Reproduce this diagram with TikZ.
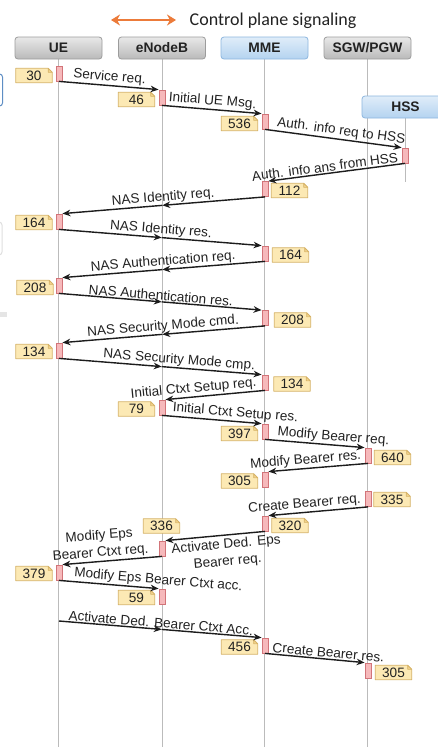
\documentclass[tikz,border=0pt]{standalone}
\usepackage{fontspec}
\setmainfont{Liberation Sans}
\newfontfamily\titlefont{Carlito}
\usetikzlibrary{arrows.meta,calc}
\pgfdeclarelayer{bg}
\pgfdeclarelayer{paper}
\pgfsetlayers{paper,bg,main}
\definecolor{grayTop}{HTML}{E8E8E8}
\definecolor{grayBot}{HTML}{BABABA}
\definecolor{grayBorder}{HTML}{9C9C9C}
\definecolor{blueTop}{HTML}{E0EDF9}
\definecolor{blueBot}{HTML}{B4D3F0}
\definecolor{blueBorder}{HTML}{8DB6DF}
\definecolor{lifegray}{HTML}{BBBBBB}
\definecolor{barfill}{HTML}{F6B9BB}
\definecolor{barborder}{HTML}{D27479}
\definecolor{notefill}{HTML}{FCE9B4}
\definecolor{notebord}{HTML}{D6B265}
\definecolor{notefoldfill}{HTML}{F1D38E}
\definecolor{msgcol}{HTML}{1C1C1C}
\definecolor{txtdark}{HTML}{222222}
\definecolor{orangearr}{HTML}{EC7B3A}
\definecolor{edgeblue}{HTML}{5E8EC4}
\newcommand\lblfont{\fontsize{13.6}{16}\selectfont}
\newcommand\twolinefont{\fontsize{13.6}{17}\selectfont}
\newcommand\hdrfont{\fontsize{13.8}{16}\selectfont\bfseries}
\tikzset{
  lifeline/.style={draw=lifegray, line width=1pt},
  hdr/.style={rounded corners=3pt, minimum width=87pt, minimum height=22pt, inner sep=0pt,
    font=\hdrfont, text=txtdark, draw=#1Border, line width=0.8pt, top color=#1Top, bottom color=#1Bot},
  actbar/.style={draw=barborder, fill=barfill, line width=0.8pt, minimum width=6pt, minimum height=15pt, inner sep=0pt},
  notetxt/.style={font=\lblfont, text=txtdark, minimum width=36pt, minimum height=14pt, inner sep=0pt},
  notepath/.style={draw=notebord, fill=notefill, line width=0.8pt, line join=round},
  notefold/.style={draw=notebord, fill=notefoldfill, line width=0.6pt, line join=round},
  msg/.style={draw=msgcol, line width=1.4pt, -{Stealth[length=8pt,width=6.5pt]}},
  lbl/.style={font=\lblfont, text=txtdark, sloped, inner sep=1.2pt},
  orangearrow/.style={draw=orangearr, line width=2.4pt, {Stealth[length=9pt,width=11pt]}-{Stealth[length=9pt,width=11pt]}}
}
\newcommand\actbarnode[3]{\node[actbar] (#1) at (#2,#3) {};}
\newcommand\notebox[4]{%
  \node[notetxt] (#1) at (#2,#3) {#4};
  \begin{pgfonlayer}{bg}
    \filldraw[notepath] (#1.south west) -- (#1.south east) -- ([yshift=-4pt]#1.north east)
      -- ([xshift=-4pt]#1.north east) -- (#1.north west) -- cycle;
    \filldraw[notefold] ([yshift=-4pt]#1.north east) -- ([xshift=-4pt]#1.north east)
      -- ([xshift=-4pt,yshift=-4pt]#1.north east) -- cycle;
  \end{pgfonlayer}}
\begin{document}
\begin{tikzpicture}[x=1pt,y=-1pt]
\useasboundingbox (0,0) rectangle (438,747);
\clip (0,0) rectangle (438,747);
\begin{pgfonlayer}{paper}
\fill[white] (0,0) rectangle (438,747);
\end{pgfonlayer}

% left edge fragments
\draw[edgeblue, line width=1pt, rounded corners=3pt] (-20,74) rectangle (2.5,106);
\draw[gray!25, line width=1pt, rounded corners=3pt] (-20,222) rectangle (2,255);
\fill[gray!20] (0,312) rectangle (7,317);

% title
\coordinate (oa) at (111,20);
\coordinate (ob) at (176,20);
\draw[orangearrow] (oa) -- (ob);
\node[anchor=base west, inner sep=0pt, font=\titlefont\fontsize{18}{20}\selectfont, text=txtdark] (title) at (189.5,25) {Control plane signaling};

% headers
\node[hdr=gray] (hUE) at (58.5,48) {UE};
\node[hdr=gray] (hENB) at (162,48) {eNodeB};
\node[hdr=blue] (hMME) at (264.5,48) {MME};
\node[hdr=gray] (hSGW) at (367.5,48) {SGW/PGW};

\coordinate (bottom) at (0,747);
\coordinate (hssend) at (405,182);
\begin{pgfonlayer}{bg}
\draw[lifeline] (hUE.south) -- (hUE.south |- bottom);
\draw[lifeline] (hENB.south) -- (hENB.south |- bottom);
\draw[lifeline] (hMME.south) -- (hMME.south |- bottom);
\draw[lifeline] (hSGW.south) -- (hSGW.south |- bottom);
\end{pgfonlayer}
\node[hdr=blue] (hHSS) at (405.5,107) {HSS};
\begin{pgfonlayer}{bg}
\draw[lifeline] (hHSS.south -| hssend) -- (hssend);
\end{pgfonlayer}

% activation bars
\actbarnode{b1}{59}{73.5}
\actbarnode{b2}{162}{97.5}
\actbarnode{b3}{265}{121.5}
\actbarnode{b4}{405}{155.5}
\actbarnode{b5}{265}{189}
\actbarnode{b6}{59}{221.5}
\actbarnode{b7}{265}{253.5}
\actbarnode{b8}{59}{285.5}
\actbarnode{b9}{265}{318}
\actbarnode{b10}{59}{350.5}
\actbarnode{b11}{265}{382.5}
\actbarnode{b12}{162}{407.5}
\actbarnode{b13}{265}{431.5}
\actbarnode{b14}{368}{455.5}
\actbarnode{b15}{265}{479.5}
\actbarnode{b16}{368}{499}
\actbarnode{b17}{265}{523.5}
\actbarnode{b18}{162}{548.5}
\actbarnode{b19}{59}{572.5}
\actbarnode{b20}{162}{596.5}
\actbarnode{b21}{265}{645.5}
\actbarnode{b22}{368}{670.5}
\coordinate (u1) at (59,621);

% notes
\notebox{n1}{34}{75.5}{30}
\notebox{n2}{136.5}{99.5}{46}
\notebox{n3}{239.5}{123.5}{536}
\notebox{n4}{289.5}{190.5}{112}
\notebox{n5}{34}{222.5}{164}
\notebox{n6}{290.5}{255}{164}
\notebox{n7}{35}{287.5}{208}
\notebox{n8}{292.5}{320}{208}
\notebox{n9}{34}{351.5}{134}
\notebox{n10}{292}{384}{134}
\notebox{n11}{136.5}{409}{79}
\notebox{n12}{239.5}{433.5}{397}
\notebox{n13}{392.5}{457.5}{640}
\notebox{n14}{239.5}{481}{305}
\notebox{n15}{392}{499.5}{335}
\notebox{n16}{290}{525.5}{320}
\notebox{n17}{161.5}{526}{336}
\notebox{n18}{34}{573.5}{379}
\notebox{n19}{136.5}{597.5}{59}
\notebox{n20}{239.5}{647}{456}
\notebox{n21}{393.5}{672.5}{305}

% messages
\draw[msg] (b1.south) -- (b2.north west) node[lbl, midway, above] {Service req.};
\draw[msg] (b2.south) -- (b3.north west) node[lbl, midway, above] {Initial UE Msg.};
\draw[msg] (b3.south) -- (b4.north west) node[lbl, pos=0.55, above] {Auth. info req to HSS};
\draw[msg] (b4.south) -- (b5.north east) node[lbl, pos=0.58, above] {Auth. info ans from HSS};

\draw[msg] (b5.south) -- ($(b5.south)!0.507!(b6.north east)$) coordinate (k5);
\draw[msg] (k5) -- (b6.north east);
\path (b5.south) -- (b6.north east) node[lbl, midway, above] {NAS Identity req.};

\draw[msg] (b6.south) -- ($(b6.south)!0.507!(b7.north west)$) coordinate (k6);
\draw[msg] (k6) -- (b7.north west);
\path (b6.south) -- (b7.north west) node[lbl, midway, above] {NAS Identity res.};

\draw[msg] (b7.south) -- ($(b7.south)!0.507!(b8.north east)$) coordinate (k7);
\draw[msg] (k7) -- (b8.north east);
\path (b7.south) -- (b8.north east) node[lbl, midway, above] {NAS Authentication req.};

\draw[msg] (b8.south) -- ($(b8.south)!0.507!(b9.north west)$) coordinate (k8);
\draw[msg] (k8) -- (b9.north west);
\path (b8.south) -- (b9.north west) node[lbl, midway, above] {NAS Authentication res.};

\draw[msg] (b9.south) -- ($(b9.south)!0.507!(b10.north east)$) coordinate (k9);
\draw[msg] (k9) -- (b10.north east);
\path (b9.south) -- (b10.north east) node[lbl, midway, above] {NAS Security Mode cmd.};

\draw[msg] (b10.south) -- ($(b10.south)!0.507!(b11.north west)$) coordinate (k10);
\draw[msg] (k10) -- (b11.north west);
\path (b10.south) -- (b11.north west) node[lbl, pos=0.59, above] {NAS Security Mode cmp.};

\draw[msg] (b11.south) -- (b12.north east) node[lbl, pos=0.71, above] {Initial Ctxt Setup req.};
\draw[msg] (b12.south) -- (b13.north west) node[lbl, pos=0.73, above] {Initial Ctxt Setup res.};
\draw[msg] (b13.south) -- (b14.north west) node[lbl, pos=0.68, above] {Modify Bearer req.};
\draw[msg] (b14.south) -- (b15.north east) node[lbl, pos=0.62, above] {Modify Bearer res.};
\draw[msg] (b16.south) -- (b17.north east) node[lbl, pos=0.63, above] {Create Bearer req.};
\draw[msg] (b17.south) -- (b18.north east) node[lbl, font=\twolinefont, pos=0.4, below, inner sep=3pt, align=center] {Activate Ded. Eps\\Bearer req.};
\draw[msg] (b18.south) -- (b19.north east) node[lbl, font=\twolinefont, pos=0.61, above, align=center] {Modify Eps\\Bearer Ctxt req.};
\draw[msg] (b19.south) -- (b20.north west) node[lbl, pos=0.99, above] {Modify Eps Bearer Ctxt acc.};

\draw[msg] (u1) -- ($(u1)!0.507!(b21.north west)$) coordinate (k19);
\draw[msg] (k19) -- (b21.north west);
\path (u1) -- (b21.north west) node[lbl, midway, above] {Activate Ded. Bearer Ctxt Acc.};

\draw[msg] (b21.south) -- (b22.north west) node[lbl, pos=0.63, above] {Create Bearer res.};
\end{tikzpicture}
\end{document}
